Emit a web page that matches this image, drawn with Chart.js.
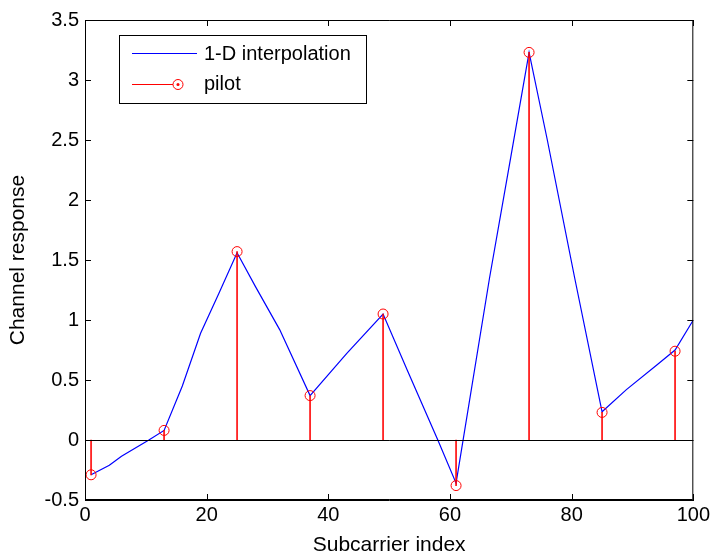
<!DOCTYPE html>
<html>
<head>
<meta charset="utf-8">
<script src="https://cdn.jsdelivr.net/npm/chart.js@4.4.1/dist/chart.umd.min.js"></script>
<style>
  html, body { margin: 0; padding: 0; background: #fff; }
  #wrap { width: 713px; height: 556px; }
</style>
</head>
<body>
<div id="wrap"><canvas id="c" width="713" height="556"></canvas></div>
<script>
// Interpolated channel response across the subcarriers
const interpIndex = [1, 4, 6, 10.5, 13, 16, 19, 22, 25, 28, 32, 37, 43, 49, 53, 58, 61, 66.5, 70, 73, 76, 80.5, 85, 89, 94, 97, 100];
const interpValue = [-0.29, -0.21, -0.135, 0.0, 0.08, 0.45, 0.89, 1.22, 1.56, 1.28, 0.92, 0.37, 0.72, 1.05, 0.58, 0.0, -0.36, 1.35, 2.36, 3.23, 2.5, 1.35, 0.235, 0.42, 0.625, 0.75, 1.0];

// Pilot subcarriers and their estimated response
const pilotIndex = [1, 13, 25, 37, 49, 61, 73, 85, 97];
const pilotValue = [-0.29, 0.08, 1.57, 0.37, 1.05, -0.38, 3.23, 0.23, 0.74];

// Axis ticks
const xTicks = [0, 20, 40, 60, 80, 100];
const xTickLabels = ['0', '20', '40', '60', '80', '100'];
const yTicks = [-0.5, 0, 0.5, 1, 1.5, 2, 2.5, 3, 3.5];
const yTickLabels = ['-0.5', '0', '0.5', '1', '1.5', '2', '2.5', '3', '3.5'];

const BLUE = 'rgb(0,0,255)';
const RED = 'rgb(255,0,0)';
const FONT = 'Liberation Sans, Arial, sans-serif';

const toXY = (xs, ys) => xs.map((x, i) => ({ x: x, y: ys[i] }));

// Box frame, inward tick marks and the stem baseline
const framePlugin = {
  id: 'frame',
  afterDatasetsDraw(chart) {
    const { ctx, chartArea: a, scales } = chart;
    const L = 6;
    ctx.save();
    ctx.strokeStyle = '#000';
    ctx.lineWidth = 1;
    ctx.beginPath();
    const y0 = Math.round(scales.y.getPixelForValue(0)) + 0.5;
    ctx.moveTo(a.left, y0); ctx.lineTo(a.right, y0);
    xTicks.forEach(v => {
      const px = Math.round(scales.x.getPixelForValue(v)) + 0.5;
      ctx.moveTo(px, a.bottom); ctx.lineTo(px, a.bottom - L);
      ctx.moveTo(px, a.top); ctx.lineTo(px, a.top + L);
    });
    yTicks.forEach(v => {
      const py = Math.round(scales.y.getPixelForValue(v)) + 0.5;
      ctx.moveTo(a.left, py); ctx.lineTo(a.left + L, py);
      ctx.moveTo(a.right, py); ctx.lineTo(a.right - L, py);
    });
    ctx.stroke();
    ctx.beginPath();
    ctx.moveTo(a.left + 0.5, a.top + 0.5);
    ctx.lineTo(a.right - 0.5, a.top + 0.5);
    ctx.lineTo(a.right - 0.5, a.bottom - 0.5);
    ctx.lineTo(a.left + 0.5, a.bottom - 0.5);
    ctx.closePath();
    ctx.stroke();
    ctx.restore();
  }
};

// Legend box in the upper-left of the plot
const legendPlugin = {
  id: 'boxLegend',
  afterDraw(chart) {
    const { ctx } = chart;
    const bx = 119.5, by = 35.5, bw = 247, bh = 68;
    ctx.save();
    ctx.fillStyle = '#fff';
    ctx.fillRect(bx, by, bw, bh);
    ctx.strokeStyle = '#000';
    ctx.lineWidth = 1;
    ctx.strokeRect(bx, by, bw, bh);

    ctx.font = '20px ' + FONT;
    ctx.fillStyle = '#000';
    ctx.textBaseline = 'middle';
    ctx.textAlign = 'left';

    // interpolation entry
    ctx.strokeStyle = BLUE;
    ctx.lineWidth = 1.2;
    ctx.beginPath();
    ctx.moveTo(132, 53.5); ctx.lineTo(197, 53.5);
    ctx.stroke();
    ctx.fillText(chart.data.datasets[0].label, 204, 54);

    // pilot entry
    ctx.strokeStyle = RED;
    ctx.lineWidth = 1;
    ctx.beginPath();
    ctx.moveTo(132, 84.5); ctx.lineTo(173, 84.5);
    ctx.stroke();
    ctx.beginPath();
    ctx.arc(178, 84.5, 5, 0, Math.PI * 2);
    ctx.stroke();
    ctx.fillStyle = RED;
    ctx.beginPath();
    ctx.arc(178, 84.5, 1.5, 0, Math.PI * 2);
    ctx.fill();
    ctx.fillStyle = '#000';
    ctx.fillText(chart.data.datasets[2].label, 204, 84);
    ctx.restore();
  }
};

new Chart(document.getElementById('c'), {
  type: 'line',
  data: {
    datasets: [
      {
        type: 'line',
        label: '1-D interpolation',
        data: toXY(interpIndex, interpValue),
        borderColor: BLUE,
        borderWidth: 1.2,
        pointRadius: 0,
        tension: 0,
        fill: false,
        order: 3
      },
      {
        type: 'bar',
        label: 'stem',
        data: toXY(pilotIndex, pilotValue),
        backgroundColor: 'rgba(255,0,0,0.85)',
        borderWidth: 0,
        barThickness: 1.2,
        order: 2
      },
      {
        type: 'scatter',
        label: 'pilot',
        data: toXY(pilotIndex, pilotValue),
        showLine: false,
        pointStyle: 'circle',
        pointRadius: 5,
        borderColor: RED,
        borderWidth: 1,
        backgroundColor: 'rgba(0,0,0,0)',
        order: 1
      }
    ]
  },
  options: {
    responsive: false,
    animation: false,
    events: [],
    layout: { padding: { top: 20, right: 19, left: 0, bottom: 0 } },
    plugins: {
      legend: { display: false },
      tooltip: { enabled: false }
    },
    scales: {
      x: {
        type: 'linear',
        min: 0,
        max: 100,
        offset: false,
        afterBuildTicks: s => { s.ticks = xTicks.map(v => ({ value: v })); },
        afterFit: s => { s.height = 56; },
        ticks: {
          autoSkip: false,
          maxRotation: 0,
          padding: 3,
          color: '#000',
          font: { family: FONT, size: 20 },
          callback: v => xTickLabels[xTicks.indexOf(v)]
        },
        grid: { display: false, drawTicks: false, offset: false },
        border: { display: true, color: '#000', width: 1 },
        title: {
          display: true,
          text: 'Subcarrier index',
          color: '#000',
          font: { family: FONT, size: 21, lineHeight: 1 },
          padding: { top: 0, bottom: 0 }
        }
      },
      y: {
        type: 'linear',
        min: -0.5,
        max: 3.5,
        afterBuildTicks: s => { s.ticks = yTicks.map(v => ({ value: v })); },
        afterFit: s => { s.width = 85; },
        ticks: {
          autoSkip: false,
          padding: 6,
          color: '#000',
          font: { family: FONT, size: 20 },
          callback: v => yTickLabels[yTicks.indexOf(v)]
        },
        grid: { display: false, drawTicks: false },
        border: { display: true, color: '#000', width: 1 },
        title: {
          display: true,
          text: 'Channel response',
          color: '#000',
          font: { family: FONT, size: 21, lineHeight: 1 },
          padding: { top: 8, bottom: 0 }
        }
      }
    }
  },
  plugins: [framePlugin, legendPlugin]
});
</script>
</body>
</html>
